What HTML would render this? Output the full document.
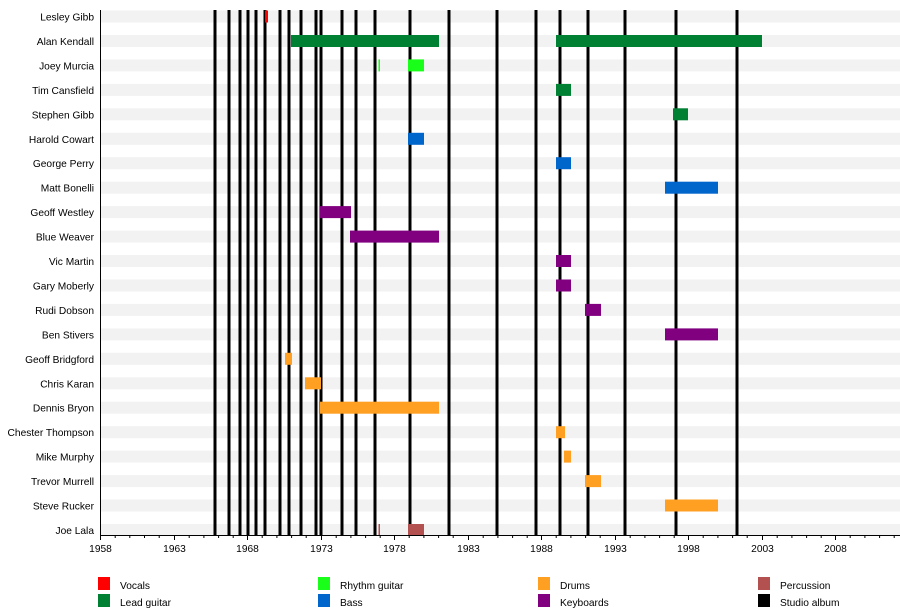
<!DOCTYPE html>
<html><head><meta charset="utf-8"><style>
body{margin:0;background:#fff}
svg{display:block;font-family:"Liberation Sans",sans-serif}
</style></head><body>
<svg width="900" height="615" viewBox="0 0 900 615">
<g fill="#f2f2f2">
<rect x="101" y="10.5" width="799" height="12"/>
<rect x="101" y="35" width="799" height="12"/>
<rect x="101" y="59.4" width="799" height="12"/>
<rect x="101" y="83.9" width="799" height="12"/>
<rect x="101" y="108.3" width="799" height="12"/>
<rect x="101" y="132.8" width="799" height="12"/>
<rect x="101" y="157.2" width="799" height="12"/>
<rect x="101" y="181.7" width="799" height="12"/>
<rect x="101" y="206.1" width="799" height="12"/>
<rect x="101" y="230.6" width="799" height="12"/>
<rect x="101" y="255" width="799" height="12"/>
<rect x="101" y="279.5" width="799" height="12"/>
<rect x="101" y="303.9" width="799" height="12"/>
<rect x="101" y="328.4" width="799" height="12"/>
<rect x="101" y="352.8" width="799" height="12"/>
<rect x="101" y="377.3" width="799" height="12"/>
<rect x="101" y="401.7" width="799" height="12"/>
<rect x="101" y="426.2" width="799" height="12"/>
<rect x="101" y="450.6" width="799" height="12"/>
<rect x="101" y="475.1" width="799" height="12"/>
<rect x="101" y="499.5" width="799" height="12"/>
<rect x="101" y="524" width="799" height="11"/>
</g>
<!-- album lines -->
<g stroke="#000" stroke-width="3">
<line x1="215" y1="10" x2="215" y2="535"/><line x1="229" y1="10" x2="229" y2="535"/>
<line x1="240" y1="10" x2="240" y2="535"/><line x1="248" y1="10" x2="248" y2="535"/>
<line x1="256" y1="10" x2="256" y2="535"/><line x1="265" y1="10" x2="265" y2="535"/>
<line x1="280" y1="10" x2="280" y2="535"/><line x1="289" y1="10" x2="289" y2="535"/>
<line x1="301" y1="10" x2="301" y2="535"/><line x1="316" y1="10" x2="316" y2="535"/>
<line x1="321" y1="10" x2="321" y2="535"/><line x1="342" y1="10" x2="342" y2="535"/>
<line x1="356" y1="10" x2="356" y2="535"/><line x1="375" y1="10" x2="375" y2="535"/>
<line x1="410" y1="10" x2="410" y2="535"/><line x1="449" y1="10" x2="449" y2="535"/>
<line x1="497" y1="10" x2="497" y2="535"/><line x1="536" y1="10" x2="536" y2="535"/>
<line x1="560" y1="10" x2="560" y2="535"/><line x1="588" y1="10" x2="588" y2="535"/>
<line x1="625" y1="10" x2="625" y2="535"/><line x1="676" y1="10" x2="676" y2="535"/>
<line x1="737" y1="10" x2="737" y2="535"/>
</g>
<!-- bars -->
<rect x="265" y="10.5" width="3" height="12" fill="#ff0000"/>
<g fill="#008033">
<rect x="291" y="35" width="148" height="12"/>
<rect x="556" y="35" width="206" height="12"/>
<rect x="556" y="83.9" width="15" height="12"/>
<rect x="673" y="108.3" width="15" height="12"/>
</g>
<g fill="#1aff1a">
<rect x="378.5" y="59.4" width="1.5" height="12"/>
<rect x="408" y="59.4" width="16" height="12"/>
</g>
<g fill="#0066cc">
<rect x="408" y="132.8" width="16" height="12"/>
<rect x="556" y="157.2" width="15" height="12"/>
<rect x="665" y="181.7" width="53" height="12"/>
</g>
<g fill="#800080">
<rect x="320" y="206.1" width="31" height="12"/>
<rect x="350" y="230.6" width="89" height="12"/>
<rect x="556" y="255" width="15" height="12"/>
<rect x="556" y="279.5" width="15" height="12"/>
<rect x="585" y="303.9" width="16" height="12"/>
<rect x="665" y="328.4" width="53" height="12"/>
</g>
<g fill="#ffa023">
<rect x="285" y="352.8" width="7" height="12"/>
<rect x="305" y="377.3" width="16" height="12"/>
<rect x="320" y="401.7" width="119" height="12"/>
<rect x="556" y="426.2" width="9" height="12"/>
<rect x="564" y="450.6" width="7" height="12"/>
<rect x="585" y="475.1" width="16" height="12"/>
<rect x="665" y="499.5" width="53" height="12"/>
</g>
<g fill="#b35050">
<rect x="378.5" y="524" width="1.5" height="11"/>
<rect x="408" y="524" width="16" height="11"/>
</g>
<!-- axes -->
<line x1="100.5" y1="10" x2="100.5" y2="536" stroke="#000" stroke-width="1"/>
<line x1="100" y1="535.5" x2="900" y2="535.5" stroke="#000" stroke-width="1"/>
<g stroke="#000" stroke-width="1">
<path d="M100.5 535v5M115.2 535v3M129.8 535v3M144.5 535v3M159.2 535v3M174.5 535v5M189.2 535v3M203.9 535v3M218.6 535v3M233.2 535v3M247.5 535v5M262.2 535v3M276.9 535v3M291.6 535v3M306.2 535v3M321.5 535v5M336.2 535v3M350.9 535v3M365.6 535v3M380.2 535v3M394.5 535v5M409.2 535v3M423.9 535v3M438.6 535v3M453.2 535v3M468.5 535v5M483.2 535v3M497.9 535v3M512.6 535v3M527.2 535v3M541.5 535v5M556.2 535v3M570.9 535v3M585.6 535v3M600.2 535v3M615.5 535v5M630.2 535v3M644.9 535v3M659.6 535v3M674.2 535v3M688.5 535v5M703.2 535v3M717.9 535v3M732.6 535v3M747.2 535v3M762.5 535v5M777.2 535v3M791.9 535v3M806.6 535v3M821.2 535v3M835.5 535v5M850.2 535v3M864.9 535v3M879.6 535v3M894.2 535v3"/>
</g>
<g font-size="10.2" text-anchor="middle" fill="#000">
<text x="100.5" y="552">1958</text><text x="174.5" y="552">1963</text>
<text x="247.5" y="552">1968</text><text x="321.5" y="552">1973</text>
<text x="394.5" y="552">1978</text><text x="468.5" y="552">1983</text>
<text x="541.5" y="552">1988</text><text x="615.5" y="552">1993</text>
<text x="688.5" y="552">1998</text><text x="762.5" y="552">2003</text>
<text x="835.5" y="552">2008</text>
</g>
<g font-size="10.2" text-anchor="end" fill="#000">
<text x="94" y="20.5">Lesley Gibb</text>
<text x="94" y="45">Alan Kendall</text>
<text x="94" y="69.4">Joey Murcia</text>
<text x="94" y="93.9">Tim Cansfield</text>
<text x="94" y="118.3">Stephen Gibb</text>
<text x="94" y="142.8">Harold Cowart</text>
<text x="94" y="167.2">George Perry</text>
<text x="94" y="191.7">Matt Bonelli</text>
<text x="94" y="216.1">Geoff Westley</text>
<text x="94" y="240.6">Blue Weaver</text>
<text x="94" y="265">Vic Martin</text>
<text x="94" y="289.5">Gary Moberly</text>
<text x="94" y="313.9">Rudi Dobson</text>
<text x="94" y="338.4">Ben Stivers</text>
<text x="94" y="362.8">Geoff Bridgford</text>
<text x="94" y="387.3">Chris Karan</text>
<text x="94" y="411.7">Dennis Bryon</text>
<text x="94" y="436.2">Chester Thompson</text>
<text x="94" y="460.6">Mike Murphy</text>
<text x="94" y="485.1">Trevor Murrell</text>
<text x="94" y="509.5">Steve Rucker</text>
<text x="94" y="534">Joe Lala</text>
</g>
<!-- legend -->
<rect x="98" y="577" width="12" height="13" fill="#ff0000"/>
<rect x="98" y="594" width="12" height="13" fill="#008033"/>
<rect x="318" y="577" width="12" height="13" fill="#1aff1a"/>
<rect x="318" y="594" width="12" height="13" fill="#0066cc"/>
<rect x="538" y="577" width="12" height="13" fill="#ffa023"/>
<rect x="538" y="594" width="12" height="13" fill="#800080"/>
<rect x="758" y="577" width="12" height="13" fill="#b35050"/>
<rect x="758" y="594" width="12" height="13" fill="#000"/>
<g font-size="10.2" fill="#000">
<text x="120" y="589">Vocals</text><text x="120" y="606">Lead guitar</text>
<text x="340" y="589">Rhythm guitar</text><text x="340" y="606">Bass</text>
<text x="560" y="589">Drums</text><text x="560" y="606">Keyboards</text>
<text x="780" y="589">Percussion</text><text x="780" y="606">Studio album</text>
</g>
</svg>
</body></html>
